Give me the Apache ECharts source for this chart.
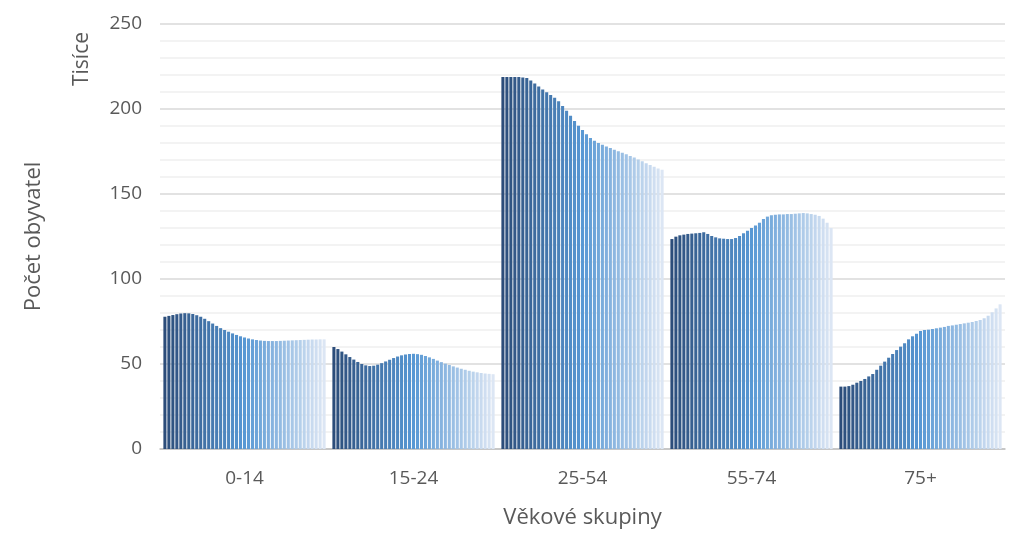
<!DOCTYPE html>
<html>
<head>
    <meta charset="UTF-8">
    <title>Počet obyvatel</title>
    <script src="https://cdn.jsdelivr.net/npm/echarts@6/dist/echarts.min.js"></script>
    <style>
        html, body { margin: 0; padding: 0; background: #fff; }
    </style>
</head>
<body>
<div id="main" style="width: 1024px;height:544px;"></div>
<script type="text/javascript">
    // věkové skupiny (kategorie osy x)
    var categories = ['0-14', '15-24', '25-54', '55-74', '75+'];
    var yTicks = [0, 50, 100, 150, 200, 250];

    // hodnoty v tisících, 41 sloupců v každé skupině
    var g0_14 = [77.8, 78.3, 78.8, 79.3, 79.7, 79.9, 79.8, 79.4, 78.7, 77.8, 76.6, 75.2, 73.8, 72.4, 71.1, 70.0,
        69.0, 68.0, 67.1, 66.3, 65.6, 65.0, 64.5, 64.1, 63.8, 63.6, 63.5, 63.5, 63.5, 63.6, 63.7, 63.8, 63.9,
        64.0, 64.1, 64.2, 64.3, 64.4, 64.4, 64.5, 64.5];
    var g15_24 = [60.0, 58.8, 57.3, 55.7, 54.1, 52.6, 51.2, 50.0, 49.2, 48.8, 49.0, 49.6, 50.5, 51.5, 52.5, 53.5,
        54.4, 55.1, 55.6, 55.9, 56.0, 55.8, 55.4, 54.7, 53.9, 53.0, 52.0, 51.1, 50.2, 49.4, 48.6, 47.9, 47.2,
        46.6, 46.0, 45.5, 45.1, 44.7, 44.4, 44.2, 44.0];
    var g25_54 = [218.8, 218.8, 218.8, 218.8, 218.8, 218.6, 218.2, 216.8, 215.0, 213.2, 211.5, 209.8, 208.2,
        206.6, 204.5, 201.8, 199.0, 196.0, 193.0, 190.2, 187.6, 185.2, 183.0, 181.3, 180.0, 179.0, 178.0, 177.0,
        176.1, 175.2, 174.3, 173.4, 172.4, 171.4, 170.3, 169.2, 168.1, 167.0, 166.0, 165.0, 164.2];
    var g55_74 = [123.5, 124.9, 125.7, 126.1, 126.5, 126.7, 126.9, 127.1, 127.5, 126.5, 125.3, 124.5, 123.9,
        123.7, 123.5, 123.5, 124.1, 125.3, 126.9, 128.4, 130.0, 131.4, 133.1, 135.3, 136.7, 137.5, 137.8, 138.0,
        138.0, 138.2, 138.2, 138.4, 138.6, 138.8, 138.6, 138.2, 137.8, 137.1, 135.5, 133.1, 130.0];
    var g75plus = [36.7, 36.7, 37.0, 37.8, 39.0, 40.0, 41.2, 42.7, 44.1, 46.6, 49.0, 51.4, 53.7, 55.9, 58.2,
        60.2, 62.2, 64.5, 66.3, 67.8, 69.4, 70.0, 70.2, 70.6, 71.0, 71.4, 71.8, 72.4, 72.7, 73.1, 73.5, 73.9,
        74.3, 74.7, 75.3, 75.9, 76.9, 78.4, 80.4, 82.7, 85.1];

    var groups = [g0_14, g15_24, g25_54, g55_74, g75plus];

    // barva: tmavě modrá -> modrá -> světle modrá
    function mix(a, b, t) {
        var r = [];
        for (var i = 0; i < 3; i++) r.push(Math.round(a[i] + (b[i] - a[i]) * t));
        return 'rgb(' + r.join(',') + ')';
    }
    var dark = [44, 77, 122], mid = [88, 152, 212], light = [220, 230, 244];
    function barColor(k, n) {
        var t = k / (n - 1);
        return t < 0.5 ? mix(dark, mid, t / 0.5) : mix(mid, light, (t - 0.5) / 0.5);
    }

    var n = g0_14.length;
    var series = [];
    for (var k = 0; k < n; k++) {
        series.push({
            name: 'S' + (k + 1),
            type: 'bar',
            barGap: '30%',
            barCategoryGap: '4%',
            itemStyle: { color: barColor(k, n) },
            data: groups.map(function (g) { return g[k]; })
        });
    }

    var myChart = echarts.init(document.getElementById('main'));

    var labelFont = '"Open Sans", "Noto Sans", sans-serif';
    var option = {
        backgroundColor: '#FFFFFF',
        animation: false,
        grid: { left: 160, right: 19, top: 24, bottom: 95 },
        graphic: [
            {
                type: 'text',
                left: 72, top: 32,
                rotation: Math.PI / 2,
                style: { text: 'Tisíce', fill: '#595959', font: '21px ' + labelFont }
            }
        ],
        xAxis: {
            type: 'category',
            data: categories,
            name: 'Věkové skupiny',
            nameLocation: 'middle',
            nameGap: 58,
            nameTextStyle: { color: '#595959', fontSize: 22, fontFamily: labelFont },
            axisLine: { lineStyle: { color: '#BFBFBF', width: 1.5 } },
            axisTick: { show: false },
            axisLabel: { color: '#595959', fontSize: 19, fontFamily: labelFont, margin: 20 }
        },
        yAxis: {
            type: 'value',
            min: yTicks[0],
            max: yTicks[yTicks.length - 1],
            interval: 50,
            name: 'Počet obyvatel',
            nameLocation: 'middle',
            nameGap: 115,
            nameTextStyle: { color: '#595959', fontSize: 22, fontFamily: labelFont },
            axisLine: { show: false },
            axisTick: { show: false },
            axisLabel: { color: '#595959', fontSize: 19, fontFamily: labelFont, margin: 18 },
            splitLine: { lineStyle: { color: '#D9D9D9', width: 1.5 } },
            minorTick: { show: false, splitNumber: 5 },
            minorSplitLine: { show: true, lineStyle: { color: '#EFEFEF', width: 1.5 } }
        },
        series: series
    };

    myChart.setOption(option);
</script>
</body>
</html>
